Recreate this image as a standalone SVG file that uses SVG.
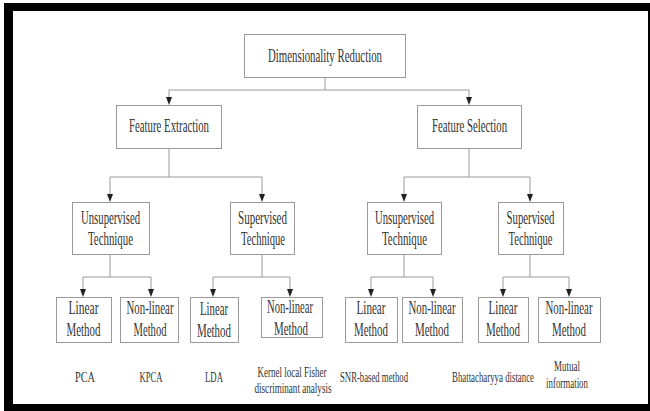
<svg xmlns="http://www.w3.org/2000/svg" width="650" height="411" viewBox="0 0 650 411">
<style>
.box{fill:#fff;stroke:#9a9a9a;stroke-width:1}
.t{font-family:"Liberation Serif","Times New Roman",serif;font-size:19px;fill:#333;text-anchor:middle}
.s{font-family:"Liberation Serif","Times New Roman",serif;font-size:14px;fill:#333;text-anchor:middle}
.ln{fill:none;stroke:#9a9a9a;stroke-width:1}
</style>
<rect x="0" y="0" width="650" height="411" fill="#fff"/>
<rect x="4" y="3" width="646" height="408" fill="#000"/>
<rect x="13" y="11" width="635" height="393" fill="#fff"/>
<g id="connectors">
<path class="ln" d="M325,77 V90 M169,90 H469"/>
<path class="ln" d="M169,148 V177 M110,177 H262"/>
<path class="ln" d="M469,148 V177 M404,177 H530"/>
<path class="ln" d="M110,254 V277 M83,277 H151"/>
<path class="ln" d="M262,254 V277 M213,277 H290"/>
<path class="ln" d="M404,254 V277 M371,277 H433"/>
<path class="ln" d="M530,254 V277 M503,277 H569"/>
<path class="ln" d="M169,90 V97 M469,90 V97 M110,177 V194 M262,177 V194 M404,177 V194 M530,177 V194 M83,277 V289 M151,277 V289 M213,277 V289 M290,277 V289 M371,277 V289 M433,277 V289 M503,277 V289 M569,277 V289"/>
<g fill="#222">
<path d="M166,97 H172 L169,105 Z"/>
<path d="M466,97 H472 L469,105 Z"/>
<path d="M107,194 H113 L110,202 Z"/>
<path d="M259,194 H265 L262,202 Z"/>
<path d="M401,194 H407 L404,202 Z"/>
<path d="M527,194 H533 L530,202 Z"/>
<path d="M80,289 H86 L83,297 Z"/>
<path d="M148,289 H154 L151,297 Z"/>
<path d="M210,289 H216 L213,297 Z"/>
<path d="M287,289 H293 L290,297 Z"/>
<path d="M368,289 H374 L371,297 Z"/>
<path d="M430,289 H436 L433,297 Z"/>
<path d="M500,289 H506 L503,297 Z"/>
<path d="M566,289 H572 L569,297 Z"/>
</g>
</g>
<g id="n-dr"><rect class="box" x="244.5" y="34.5" width="161" height="43"/><text class="t" transform="translate(325 62) scale(0.62 1)" textLength="183.9" lengthAdjust="spacingAndGlyphs">Dimensionality Reduction</text></g>
<g id="n-fe"><rect class="box" x="116.5" y="105.5" width="105" height="43"/><text class="t" transform="translate(169 132) scale(0.62 1)" textLength="129" lengthAdjust="spacingAndGlyphs">Feature Extraction</text></g>
<g id="n-fs"><rect class="box" x="417.5" y="105.5" width="104" height="43"/><text class="t" transform="translate(469.5 132) scale(0.62 1)" textLength="121" lengthAdjust="spacingAndGlyphs">Feature Selection</text></g>
<g id="n-ut1"><rect class="box" x="72.5" y="202.5" width="77" height="52"/><text class="t" transform="translate(110.5 224) scale(0.62 1)" textLength="95.2" lengthAdjust="spacingAndGlyphs">Unsupervised</text><text class="t" transform="translate(110.5 245) scale(0.62 1)" textLength="72.6" lengthAdjust="spacingAndGlyphs">Technique</text></g>
<g id="n-st1"><rect class="box" x="230.5" y="202.5" width="64" height="52"/><text class="t" transform="translate(262.5 224) scale(0.62 1)" textLength="79" lengthAdjust="spacingAndGlyphs">Supervised</text><text class="t" transform="translate(263 245) scale(0.62 1)" textLength="71" lengthAdjust="spacingAndGlyphs">Technique</text></g>
<g id="n-ut2"><rect class="box" x="367.5" y="202.5" width="74" height="52"/><text class="t" transform="translate(404.5 224) scale(0.62 1)" textLength="95.2" lengthAdjust="spacingAndGlyphs">Unsupervised</text><text class="t" transform="translate(404.5 245) scale(0.62 1)" textLength="72.6" lengthAdjust="spacingAndGlyphs">Technique</text></g>
<g id="n-st2"><rect class="box" x="498.5" y="202.5" width="65" height="52"/><text class="t" transform="translate(530.5 224) scale(0.62 1)" textLength="77.4" lengthAdjust="spacingAndGlyphs">Supervised</text><text class="t" transform="translate(530.5 245) scale(0.62 1)" textLength="71" lengthAdjust="spacingAndGlyphs">Technique</text></g>
<g id="n-l1"><rect class="box" x="56.5" y="297.5" width="55" height="45"/><text class="t" transform="translate(83.5 314) scale(0.62 1)" textLength="48.4" lengthAdjust="spacingAndGlyphs">Linear</text><text class="t" transform="translate(83.5 336) scale(0.62 1)" textLength="54.8" lengthAdjust="spacingAndGlyphs">Method</text></g>
<g id="n-nl1"><rect class="box" x="120.5" y="297.5" width="58" height="45"/><text class="t" transform="translate(150 314) scale(0.62 1)" textLength="75.8" lengthAdjust="spacingAndGlyphs">Non-linear</text><text class="t" transform="translate(150 336) scale(0.62 1)" textLength="53.2" lengthAdjust="spacingAndGlyphs">Method</text></g>
<g id="n-l2"><rect class="box" x="190.5" y="297.5" width="48" height="45"/><text class="t" transform="translate(214 315) scale(0.62 1)" textLength="45.2" lengthAdjust="spacingAndGlyphs">Linear</text><text class="t" transform="translate(214 337) scale(0.62 1)" textLength="54.8" lengthAdjust="spacingAndGlyphs">Method</text></g>
<g id="n-nl2"><rect class="box" x="261.5" y="297.5" width="61" height="40"/><text class="t" transform="translate(290 313) scale(0.62 1)" textLength="74.2" lengthAdjust="spacingAndGlyphs">Non-linear</text><text class="t" transform="translate(291 335) scale(0.62 1)" textLength="54.8" lengthAdjust="spacingAndGlyphs">Method</text></g>
<g id="n-l3"><rect class="box" x="345.5" y="297.5" width="52" height="45"/><text class="t" transform="translate(371 314) scale(0.62 1)" textLength="46.8" lengthAdjust="spacingAndGlyphs">Linear</text><text class="t" transform="translate(371 336) scale(0.62 1)" textLength="54.8" lengthAdjust="spacingAndGlyphs">Method</text></g>
<g id="n-nl3"><rect class="box" x="402.5" y="297.5" width="60" height="45"/><text class="t" transform="translate(432 314) scale(0.62 1)" textLength="75.8" lengthAdjust="spacingAndGlyphs">Non-linear</text><text class="t" transform="translate(432 336) scale(0.62 1)" textLength="54.8" lengthAdjust="spacingAndGlyphs">Method</text></g>
<g id="n-l4"><rect class="box" x="478.5" y="297.5" width="50" height="45"/><text class="t" transform="translate(503 314) scale(0.62 1)" textLength="46.8" lengthAdjust="spacingAndGlyphs">Linear</text><text class="t" transform="translate(503 336) scale(0.62 1)" textLength="54.8" lengthAdjust="spacingAndGlyphs">Method</text></g>
<g id="n-nl4"><rect class="box" x="538.5" y="297.5" width="62" height="45"/><text class="t" transform="translate(569 314) scale(0.62 1)" textLength="75.8" lengthAdjust="spacingAndGlyphs">Non-linear</text><text class="t" transform="translate(569 336) scale(0.62 1)" textLength="54.8" lengthAdjust="spacingAndGlyphs">Method</text></g>
<g id="labels">
<text class="s" transform="translate(85 382) scale(0.65 1)" textLength="30.8" lengthAdjust="spacingAndGlyphs">PCA</text>
<text class="s" transform="translate(151 382) scale(0.65 1)" textLength="35.4" lengthAdjust="spacingAndGlyphs">KPCA</text>
<text class="s" transform="translate(214 382) scale(0.65 1)" textLength="27.7" lengthAdjust="spacingAndGlyphs">LDA</text>
<text class="s" transform="translate(292 377) scale(0.65 1)" textLength="106.2" lengthAdjust="spacingAndGlyphs">Kernel local Fisher</text>
<text class="s" transform="translate(293 393) scale(0.65 1)" textLength="118.5" lengthAdjust="spacingAndGlyphs">discriminant analysis</text>
<text class="s" transform="translate(374 382) scale(0.65 1)" textLength="104.6" lengthAdjust="spacingAndGlyphs">SNR-based method</text>
<text class="s" transform="translate(493 382) scale(0.65 1)" textLength="126.2" lengthAdjust="spacingAndGlyphs">Bhattacharyya distance</text>
<text class="s" transform="translate(567 371) scale(0.65 1)" textLength="40" lengthAdjust="spacingAndGlyphs">Mutual</text>
<text class="s" transform="translate(567 388) scale(0.65 1)" textLength="64.6" lengthAdjust="spacingAndGlyphs">information</text>
</g>
</svg>
